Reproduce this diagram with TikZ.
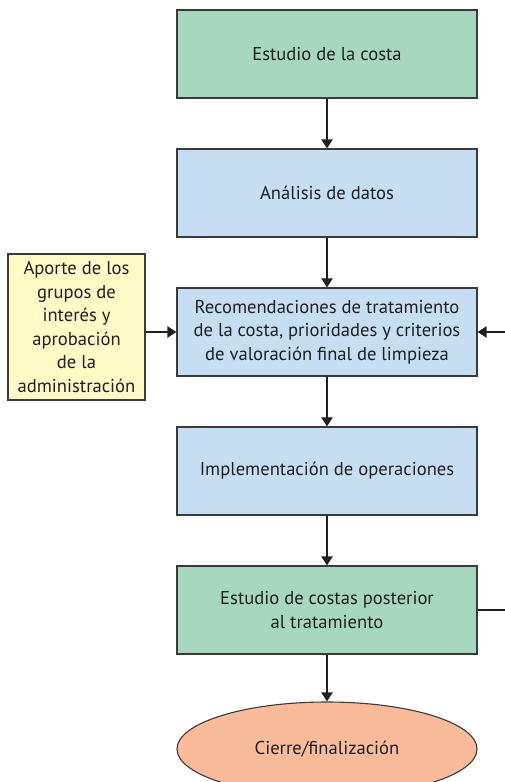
\documentclass[tikz,border=0pt]{standalone}
\usepackage{fontspec}
\setmainfont{PT Sans}
\usetikzlibrary{arrows.meta,shapes.geometric}
\definecolor{txt}{HTML}{231F20}
\definecolor{fgreen}{HTML}{A6D8C0}
\definecolor{fblue}{HTML}{C5DEF2}
\definecolor{fyellow}{HTML}{FFFAC6}
\definecolor{fsalmon}{HTML}{F9BC9B}
\definecolor{bord}{HTML}{3A3A3A}
\tikzset{
  box/.style={draw=bord, line width=1.1pt, minimum width=300pt, minimum height=88pt,
    align=center, text=txt, font=\fontsize{18.6}{23.5}\selectfont, inner sep=0pt},
  conn/.style={draw=txt, line width=2pt, -{Triangle[width=11pt,length=9pt]}},
  plain/.style={draw=txt, line width=2pt}
}
\begin{document}
\begin{tikzpicture}[x=1pt,y=-1pt]
\useasboundingbox (0,0) rectangle (505,782);
\clip (0,0) rectangle (505,782);
\fill[white] (0,0) rectangle (505,782);
\node[box, fill=fgreen] (b1) at (327,54) {Estudio de la costa};
\node[box, fill=fblue] (b2) at (327,193) {Análisis de datos};
\node[box, fill=fblue] (b3) at (327,332) {Recomendaciones de tratamiento\\de la costa, prioridades y criterios\\de valoración final de limpieza};
\node[box, fill=fblue] (b4) at (327,471) {Implementación de operaciones};
\node[box, fill=fgreen] (b5) at (327,610) {Estudio de costas posterior\\al tratamiento};
\node[ellipse, draw=bord, line width=1.1pt, fill=fsalmon, minimum width=300pt, minimum height=94pt,
  text=txt, font=\fontsize{18.6}{23.5}\selectfont, inner sep=0pt] (e) at (327,749) {Cierre/finalización};
\node[box, fill=fyellow, minimum width=137pt, minimum height=146pt] (y) at (76.5,327)
  {Aporte de los\\grupos de\\interés y\\aprobación\\de la\\administración};
\draw[conn] (b1) -- (b2);
\draw[conn] (b2) -- (b3);
\draw[conn] (b3) -- (b4);
\draw[conn] (b4) -- (b5);
\draw[conn] (b5) -- (e);
\draw[conn] (y.east |- b3.west) -- (b3.west);
\coordinate (r) at (520,0);
\draw[plain] (b5.east) -- (b5.east -| r) -- (b3.east -| r);
\draw[conn] (b3.east -| r) -- (b3.east);
\end{tikzpicture}
\end{document}
